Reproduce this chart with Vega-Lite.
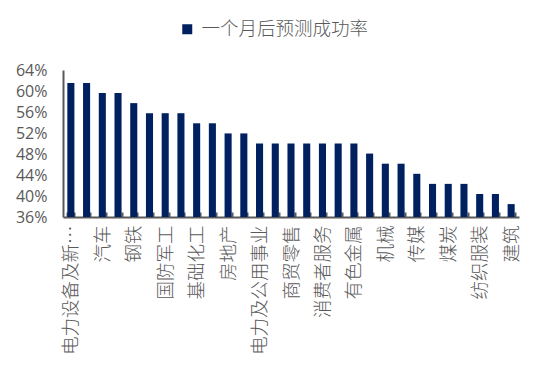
{
  "$schema": "https://vega.github.io/schema/vega-lite/v6.json",
  "width": 456,
  "height": 147,
  "autosize": {"type": "none"},
  "padding": {"left": 63, "top": 70, "right": 23, "bottom": 158},
  "background": "white",
  "config": {"view": {"stroke": null}},
  "data": {
    "values": [
      {"industry": "电力设备及新能源", "rate": 0.6154},
      {"industry": "计算机", "rate": 0.6154},
      {"industry": "汽车", "rate": 0.5962},
      {"industry": "电子", "rate": 0.5962},
      {"industry": "钢铁", "rate": 0.5769},
      {"industry": "食品饮料", "rate": 0.5577},
      {"industry": "国防军工", "rate": 0.5577},
      {"industry": "医药", "rate": 0.5577},
      {"industry": "基础化工", "rate": 0.5385},
      {"industry": "建材", "rate": 0.5385},
      {"industry": "房地产", "rate": 0.5192},
      {"industry": "家电", "rate": 0.5192},
      {"industry": "电力及公用事业", "rate": 0.5},
      {"industry": "轻工制造", "rate": 0.5},
      {"industry": "商贸零售", "rate": 0.5},
      {"industry": "通信", "rate": 0.5},
      {"industry": "消费者服务", "rate": 0.5},
      {"industry": "银行", "rate": 0.5},
      {"industry": "有色金属", "rate": 0.5},
      {"industry": "交通运输", "rate": 0.4808},
      {"industry": "机械", "rate": 0.4615},
      {"industry": "非银行金融", "rate": 0.4615},
      {"industry": "传媒", "rate": 0.4423},
      {"industry": "农林牧渔", "rate": 0.4231},
      {"industry": "煤炭", "rate": 0.4231},
      {"industry": "石油石化", "rate": 0.4231},
      {"industry": "纺织服装", "rate": 0.4038},
      {"industry": "综合", "rate": 0.4038},
      {"industry": "建筑", "rate": 0.3846}
    ]
  },
  "mark": {"type": "bar"},
  "encoding": {
    "x": {
      "field": "industry",
      "type": "nominal",
      "sort": null,
      "scale": {"paddingInner": 0.55, "paddingOuter": 0.275},
      "axis": {
        "title": null,
        "labelAngle": -90,
        "labelFont": "Noto Sans CJK SC",
        "labelFontSize": 18.5,
        "labelFontWeight": 300,
        "labelColor": "#595959",
        "labelPadding": 13,
        "labelLimit": 200,
        "labelExpr": "datum.value == '电力设备及新能源' ? '电力设备及新…' : (indexof(['计算机','电子','食品饮料','医药','建材','家电','轻工制造','通信','银行','交通运输','非银行金融','农林牧渔','石油石化','综合'], datum.value) >= 0 ? '' : datum.value)",
        "tickBand": "extent",
        "tickSize": -5,
        "tickColor": "#595959",
        "tickWidth": 2,
        "domainColor": "#595959",
        "domainWidth": 2
      }
    },
    "y": {
      "field": "rate",
      "type": "quantitative",
      "scale": {"domain": [0.36, 0.64], "nice": false, "zero": false},
      "axis": {
        "title": null,
        "format": ".0%",
        "values": [0.36, 0.40, 0.44, 0.48, 0.52, 0.56, 0.60, 0.64],
        "grid": false,
        "ticks": false,
        "labelFont": "Open Sans",
        "labelFontSize": 16,
        "labelColor": "#595959",
        "labelPadding": 16,
        "domainColor": "#595959",
        "domainWidth": 2
      }
    },
    "y2": {"datum": 0.36},
    "color": {
      "datum": "一个月后预测成功率",
      "type": "nominal",
      "scale": {"range": ["#002060"]},
      "legend": {
        "title": null,
        "orient": "none",
        "legendX": 115,
        "legendY": -50,
        "symbolType": "square",
        "symbolSize": 100,
        "symbolStrokeWidth": 0,
        "labelFont": "Noto Sans CJK SC",
        "labelFontSize": 18.5,
        "labelFontWeight": 300,
        "labelColor": "#595959",
        "labelOffset": 5,
        "labelLimit": 400,
        "padding": 0
      }
    }
  }
}
